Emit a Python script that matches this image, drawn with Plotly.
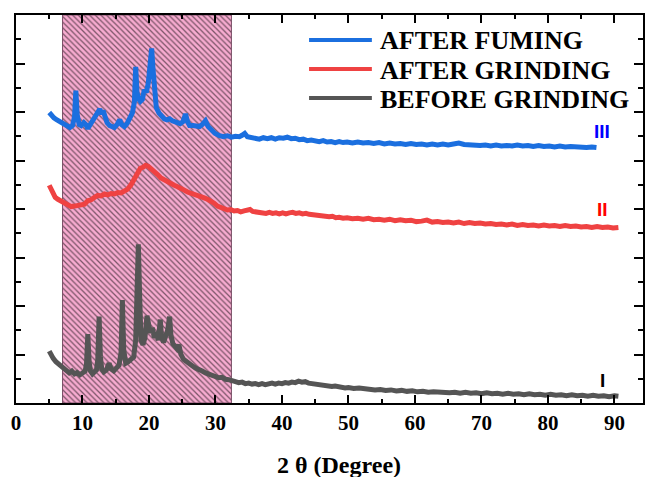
import plotly.graph_objects as go

# ---------------- data ----------------
before_x = [5.0, 5.3, 5.6, 6.0, 6.4, 6.8, 7.2, 7.6, 8.0, 8.4,
            8.8, 9.2, 9.6, 10.0, 10.4, 10.6, 10.8, 11.0, 11.2, 11.5,
            11.8, 12.1, 12.3, 12.5, 12.7, 12.9, 13.2, 13.6, 14.0, 14.3,
            14.7, 15.1, 15.5, 15.8, 16.0, 16.2, 16.5, 16.9, 17.3, 17.7,
            18.0, 18.2, 18.4, 18.6, 18.8, 19.1, 19.4, 19.7, 19.9, 20.2,
            20.5, 20.8, 21.1, 21.4, 21.7, 21.9, 22.2, 22.5, 22.8, 23.1,
            23.3, 23.6, 23.9, 24.2, 24.5, 24.8, 25.2, 25.6, 26.0, 26.5,
            27.0, 27.5, 28.0, 28.5, 29.0, 29.5,
            30.0, 30.5, 31.0, 31.5, 32.0, 32.5, 33.0, 33.5, 34.0, 34.5,
            35.0, 35.5, 36.0, 36.5, 37.0, 37.5, 38.0, 38.5, 39.0, 39.5,
            40.0, 40.5, 41.0, 41.5, 42.0, 42.5, 43.0, 43.5, 44.0, 44.5,
            45.0, 45.5, 46.0, 46.5, 47.0, 47.5, 48.0, 48.5, 49.0, 49.5,
            50.0, 50.8, 51.6, 52.4, 53.2, 54.0, 54.8, 55.6, 56.4, 57.2,
            58.0, 58.8, 59.6, 60.4, 61.2, 62.0, 62.8, 63.6, 64.4, 65.2,
            66.0, 66.8, 67.6, 68.4, 69.2, 70.0, 70.8, 71.6, 72.4, 73.2,
            74.0, 74.8, 75.6, 76.4, 77.2, 78.0, 78.8, 79.6, 80.4, 81.2,
            82.0, 82.8, 83.6, 84.4, 85.2, 86.0, 86.8, 87.6, 88.4, 89.2,
            90.0, 90.6]
before_y = [1.07, 0.98, 0.92, 0.85, 0.80, 0.75, 0.70, 0.66, 0.62, 0.66,
            0.60, 0.63, 0.58, 0.62, 0.66, 0.80, 1.42, 0.85, 0.66, 0.60,
            0.63, 0.68, 0.90, 1.78, 0.95, 0.70, 0.64, 0.68, 0.82, 0.70,
            0.66, 0.72, 0.78, 1.05, 2.12, 1.10, 0.82, 0.85, 0.90, 0.95,
            1.30, 2.40, 3.27, 2.20, 1.30, 1.20, 1.35, 1.80, 1.60, 1.45,
            1.55, 1.35, 1.40, 1.30, 1.72, 1.35, 1.25, 1.35, 1.50, 1.78,
            1.40, 1.22, 1.15, 1.12, 1.20, 1.00, 0.90, 0.85, 0.80, 0.77,
            0.72, 0.70, 0.66, 0.62, 0.60, 0.57,
            0.55, 0.52, 0.53, 0.49, 0.48, 0.47, 0.44, 0.42, 0.43, 0.40,
            0.41, 0.39, 0.40, 0.38, 0.40, 0.38, 0.39, 0.41, 0.39, 0.41,
            0.40, 0.42, 0.41, 0.43, 0.42, 0.45, 0.43, 0.44, 0.41, 0.40,
            0.38, 0.38, 0.36, 0.37, 0.35, 0.34, 0.35, 0.33, 0.33, 0.31,
            0.32, 0.30, 0.31, 0.29, 0.29, 0.27, 0.28, 0.26, 0.27, 0.25,
            0.26, 0.24, 0.25, 0.23, 0.24, 0.22, 0.23, 0.22, 0.23, 0.21,
            0.22, 0.20, 0.22, 0.20, 0.21, 0.19, 0.21, 0.19, 0.20, 0.18,
            0.20, 0.18, 0.19, 0.17, 0.19, 0.17, 0.18, 0.16, 0.18, 0.16,
            0.17, 0.15, 0.17, 0.15, 0.16, 0.14, 0.16, 0.14, 0.15, 0.13,
            0.15, 0.14]

fuming_x = [5.0, 5.3, 5.7, 6.1, 6.6, 7.1, 7.6, 8.1, 8.5, 8.8,
            9.0, 9.2, 9.5, 9.8, 10.2, 10.5, 10.8, 11.1, 11.5, 11.8,
            12.1, 12.4, 12.6, 12.9, 13.1, 13.4, 13.7, 14.1, 14.5, 14.8,
            15.2, 15.6, 15.9, 16.3, 16.7, 17.1, 17.5, 17.8, 18.0, 18.2,
            18.4, 18.7, 19.0, 19.3, 19.6, 19.9, 20.2, 20.4, 20.6, 20.8,
            21.1, 21.5, 21.9, 22.3, 22.7, 23.1, 23.5, 23.9, 24.3, 24.7,
            25.1, 25.5, 25.8, 26.1, 26.6, 27.1, 27.6, 28.0, 28.5, 28.9,
            29.4, 29.9,
            30.6, 31.2, 31.8, 32.4, 33.0, 33.6, 34.0, 34.4, 34.8, 35.4,
            36.0, 36.6, 37.2, 37.8, 38.4, 39.0, 39.6, 40.2, 40.8, 41.4,
            42.0, 42.6, 43.2, 43.8, 44.4, 45.0, 45.6, 46.2, 46.8, 47.4,
            48.0, 48.6, 49.2, 49.8, 50.6, 51.4, 52.2, 53.0, 53.8, 54.6,
            55.4, 56.2, 57.0, 57.8, 58.6, 59.4, 60.2, 61.0, 61.8, 62.6,
            63.4, 64.2, 65.0, 65.8, 66.6, 67.4, 68.2, 69.0, 69.8, 70.6,
            71.4, 72.2, 73.0, 73.8, 74.6, 75.4, 76.2, 77.0, 77.8, 78.6,
            79.4, 80.2, 81.0, 81.8, 82.6, 83.4, 84.2, 85.0, 85.8, 86.6,
            87.3]
fuming_y = [5.99, 5.93, 5.88, 5.84, 5.80, 5.76, 5.72, 5.68, 5.72, 5.90,
            6.44, 5.95, 5.74, 5.72, 5.78, 5.74, 5.66, 5.72, 5.82, 5.86,
            5.92, 5.98, 6.06, 5.96, 6.03, 5.90, 5.78, 5.72, 5.68, 5.68,
            5.74, 5.84, 5.74, 5.70, 5.76, 5.86, 5.98, 6.20, 6.93, 6.40,
            6.28, 6.22, 6.26, 6.46, 6.40, 6.60, 7.10, 7.31, 6.90, 6.50,
            6.09, 5.98, 5.90, 5.86, 5.84, 5.86, 5.82, 5.80, 5.78, 5.76,
            5.80, 5.96, 5.80, 5.72, 5.72, 5.70, 5.70, 5.74, 5.82, 5.70,
            5.62, 5.56,
            5.51, 5.49, 5.51, 5.48, 5.50, 5.49, 5.52, 5.56, 5.49, 5.48,
            5.46, 5.44, 5.47, 5.45, 5.47, 5.44, 5.47, 5.46, 5.48, 5.45,
            5.46, 5.43, 5.44, 5.41, 5.42, 5.40, 5.39, 5.41, 5.38, 5.39,
            5.37, 5.39, 5.37, 5.38, 5.36, 5.38, 5.36, 5.37, 5.35, 5.37,
            5.34, 5.36, 5.34, 5.35, 5.33, 5.35, 5.33, 5.34, 5.32, 5.34,
            5.32, 5.34, 5.32, 5.34, 5.36, 5.33, 5.32, 5.33, 5.31, 5.32,
            5.30, 5.32, 5.30, 5.31, 5.30, 5.32, 5.30, 5.31, 5.29, 5.31,
            5.29, 5.30, 5.28, 5.30, 5.28, 5.29, 5.28, 5.29, 5.27, 5.28,
            5.27]

grinding_x = [5.0, 5.3, 5.6, 5.9, 6.3, 6.8, 7.3, 7.8, 8.3, 8.8,
              9.3, 9.8, 10.3, 10.8, 11.3, 11.8, 12.3, 12.8, 13.3, 13.8,
              14.3, 14.8, 15.3, 15.8, 16.3, 16.8, 17.3, 17.7, 18.0, 18.3,
              18.7, 19.1, 19.5, 19.9, 20.3, 20.8, 21.3, 21.8, 22.3, 22.8,
              23.3, 23.8, 24.3, 24.8, 25.3, 25.8, 26.3, 26.8, 27.3, 27.8,
              28.3, 28.8, 29.3, 29.8,
              30.3, 30.8, 31.3, 31.8, 32.3, 32.8, 33.3, 33.8, 34.3, 34.8,
              35.2, 35.6, 36.1, 36.6, 37.1, 37.6, 38.1, 38.6, 39.1, 39.6,
              40.1, 40.6, 41.1, 41.6, 42.1, 42.6, 43.1, 43.6, 44.1, 44.6,
              45.1, 45.6, 46.1, 46.6, 47.1, 47.6, 48.1, 48.6, 49.2, 49.8,
              50.6, 51.4, 52.2, 53.0, 53.8, 54.6, 55.4, 56.2, 57.0, 57.8,
              58.6, 59.4, 60.2, 61.0, 61.8, 62.6, 63.4, 64.2, 65.0, 65.8,
              66.6, 67.4, 68.2, 69.0, 69.8, 70.6, 71.4, 72.2, 73.0, 73.8,
              74.6, 75.4, 76.2, 77.0, 77.8, 78.6, 79.4, 80.2, 81.0, 81.8,
              82.6, 83.4, 84.2, 85.0, 85.8, 86.6, 87.4, 88.2, 89.0, 89.8,
              90.6]
grinding_y = [4.49, 4.40, 4.30, 4.24, 4.20, 4.16, 4.12, 4.08, 4.05, 4.06,
              4.08, 4.10, 4.10, 4.17, 4.19, 4.24, 4.28, 4.27, 4.31, 4.29,
              4.32, 4.31, 4.34, 4.33, 4.38, 4.41, 4.50, 4.60, 4.70, 4.78,
              4.84, 4.86, 4.90, 4.88, 4.84, 4.76, 4.71, 4.64, 4.60, 4.55,
              4.53, 4.49, 4.46, 4.41, 4.39, 4.35, 4.33, 4.30, 4.29, 4.25,
              4.23, 4.20, 4.17, 4.12,
              4.06, 4.03, 4.01, 3.98, 3.99, 3.96, 3.97, 3.94, 3.96, 3.98,
              3.99, 3.95, 3.94, 3.92, 3.93, 3.91, 3.93, 3.91, 3.92, 3.90,
              3.92, 3.90, 3.92, 3.93, 3.91, 3.92, 3.90, 3.91, 3.89, 3.88,
              3.87, 3.88, 3.85, 3.86, 3.84, 3.85, 3.82, 3.83, 3.81, 3.82,
              3.80, 3.81, 3.79, 3.81, 3.78, 3.79, 3.77, 3.79, 3.76, 3.78,
              3.76, 3.77, 3.74, 3.75, 3.77, 3.73, 3.74, 3.72, 3.73, 3.71,
              3.73, 3.70, 3.72, 3.70, 3.71, 3.69, 3.70, 3.68, 3.69, 3.67,
              3.69, 3.66, 3.68, 3.66, 3.67, 3.65, 3.67, 3.65, 3.66, 3.64,
              3.66, 3.64, 3.65, 3.63, 3.64, 3.62, 3.64, 3.62, 3.63, 3.61,
              3.62]

series_names = ["AFTER FUMING", "AFTER GRINDING", "BEFORE GRINDING"]
series_tags = ["III", "II", "I"]
hatch_range = [7.0, 32.4]
x_ticks = [0, 10, 20, 30, 40, 50, 60, 70, 80, 90]

# ---------------- style ----------------
BLUE = "#1b6fdf"
RED = "#ef4242"
GRAY = "#555555"
TAG_COLORS = ["#0000ff", "#ff0000", "#000000"]
SERIF = "Liberation Serif, Times New Roman, serif"
Y_MAX = 8
X_MAX = 94.3

fig = go.Figure()

# hatched region
fig.add_trace(go.Scatter(
    x=[hatch_range[0], hatch_range[1], hatch_range[1], hatch_range[0], hatch_range[0]],
    y=[0, 0, Y_MAX, Y_MAX, 0],
    mode="lines", fill="toself",
    fillcolor="#f7abd0",
    fillpattern=dict(shape="\\", bgcolor="#f7abd0", fgcolor="#000000", size=4, solidity=0.32),
    line=dict(color="#7a4d66", width=1),
    hoverinfo="skip", showlegend=False,
))

for xs, ys, col, name in [(before_x, before_y, GRAY, series_names[2]),
                          (grinding_x, grinding_y, RED, series_names[1]),
                          (fuming_x, fuming_y, BLUE, series_names[0])]:
    fig.add_trace(go.Scatter(x=xs, y=ys, mode="lines", name=name,
                             line=dict(color=col, width=5), showlegend=False))

# manual legend (long line samples like the original)
def px_x(p):
    return (p - 16) / 629.0

def px_y(p):
    return (403 - p) / 388.0

legend_rows = [(series_names[0], BLUE, 40), (series_names[1], RED, 69), (series_names[2], GRAY, 98)]
for name, col, py in legend_rows:
    fig.add_shape(type="line", xref="paper", yref="paper",
                  x0=px_x(310), x1=px_x(373), y0=px_y(py), y1=px_y(py),
                  line=dict(color=col, width=4))
    fig.add_annotation(text="<b>%s</b>" % name, xref="paper", yref="paper",
                       x=px_x(379), y=px_y(py + 1), xanchor="left", yanchor="middle",
                       showarrow=False, font=dict(family=SERIF, size=26, color="black"))

# roman numeral tags
tag_pos = [(88.2, 5.60), (88.2, 3.99), (88.2, 0.47)]
for tag, col, (tx, ty) in zip(series_tags, TAG_COLORS, tag_pos):
    fig.add_annotation(text="<b>%s</b>" % tag, x=tx, y=ty, xref="x", yref="y",
                       showarrow=False, font=dict(family="Liberation Sans, Arial, sans-serif", size=19, color=col))

# axis title
fig.add_annotation(text="<b>2 θ (Degree)</b>", xref="paper", yref="paper",
                   x=px_x(340), y=px_y(465), xanchor="center", yanchor="middle",
                   showarrow=False, font=dict(family=SERIF, size=24, color="black"))

fig.update_xaxes(range=[0, X_MAX], tickvals=x_ticks, ticktext=["<b>%d</b>" % v for v in x_ticks],
                 ticks="inside", ticklen=8, tickwidth=2, tickcolor="black",
                 minor=dict(dtick=5, tick0=0, ticks="inside", ticklen=4, tickwidth=2, tickcolor="black"),
                 showline=True, linewidth=2, linecolor="black", mirror="ticks",
                 showgrid=False, zeroline=False,
                 tickfont=dict(family=SERIF, size=21, color="black"))
fig.update_yaxes(range=[0, Y_MAX], dtick=1, tick0=0, showticklabels=False,
                 ticks="inside", ticklen=9, tickwidth=2, tickcolor="black",
                 minor=dict(dtick=0.5, tick0=0, ticks="inside", ticklen=5, tickwidth=2, tickcolor="black"),
                 showline=True, linewidth=2, linecolor="black", mirror="ticks",
                 showgrid=False, zeroline=False)

fig.update_layout(width=648, height=477, margin=dict(l=16, r=3, t=15, b=74),
                  paper_bgcolor="white", plot_bgcolor="white", showlegend=False)

fig.write_html("out.html")
